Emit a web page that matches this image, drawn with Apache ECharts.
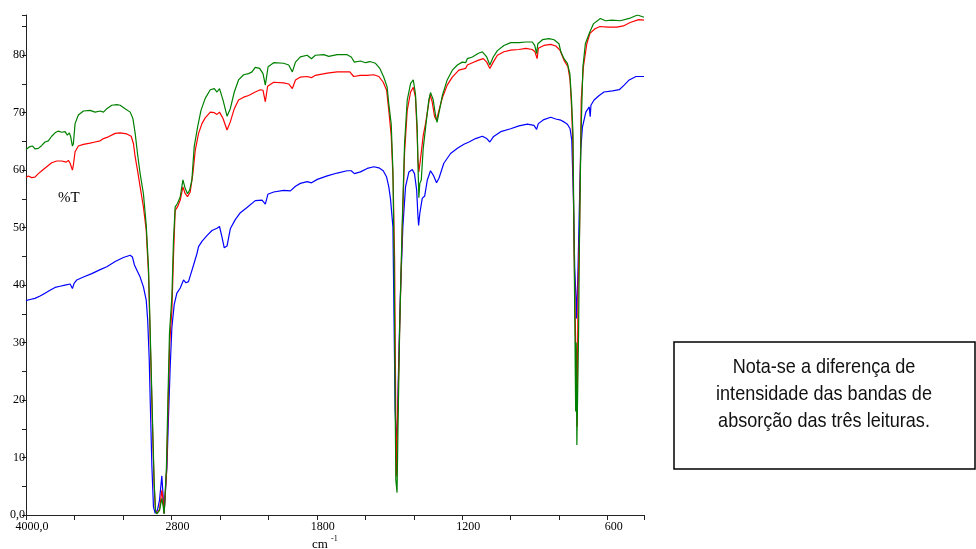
<!DOCTYPE html>
<html>
<head>
<meta charset="utf-8">
<script src="https://cdn.jsdelivr.net/npm/echarts@6/dist/echarts.min.js"></script>
<style>
  html, body { margin: 0; padding: 0; background: #fff; }
  #chart { width: 976px; height: 549px; }
</style>
</head>
<body>
<div id="chart"></div>
<script>
// IR spectrum: three readings, wavenumber (cm-1) vs %T
const xTickValues = [4000, 2800, 1800, 1200, 600];
const xTickTexts = ['4000,0', '2800', '1800', '1200', '600'];
const yTickValues = [0, 10, 20, 30, 40, 50, 60, 70, 80];
const yTickTexts = ['0,0', '10', '20', '30', '40', '50', '60', '70', '80'];

const readingGreen = [
  [4000,63.6],[3967,64.1],[3945,64.2],[3926,63.7],[3898,63.8],[3870,64.3],[3843,64.9],[3816,65.1],[3788,65.9],[3760,66.5],
  [3733,66.8],[3705,66.6],[3678,66.7],[3659,66.1],[3642,66.5],[3631,65.8],[3617,64.2],[3609,64.6],[3595,68.1],[3568,69.6],
  [3526,70.3],[3471,70.4],[3430,70.1],[3388,70.3],[3361,70.1],[3333,70.7],[3292,71.3],[3250,71.4],[3223,71.3],[3182,70.7],
  [3140,70.1],[3118,69.0],[3099,66.4],[3080,62.9],[3058,59.4],[3031,55.9],[3008,50.5],[2989,43],[2969,27],[2953,14],
  [2942,5.5],[2931,0.6],[2920,0.2],[2898,0.8],[2879,2.9],[2868,1.5],[2860,0.2],[2841,8.4],[2829,20],[2816,31.6],
  [2796,38],[2783,47.8],[2769,53.6],[2750,54.2],[2727,55.4],[2705,58.3],[2686,56.8],[2667,55.9],[2650,56.5],[2631,58.3],
  [2612,64.1],[2584,67.5],[2556,70.4],[2521,72.5],[2479,74.0],[2446,74.2],[2424,73.6],[2403,74.2],[2374,72.2],[2341,69.4],
  [2314,70.7],[2281,73.6],[2246,75.7],[2204,76.6],[2163,76.8],[2135,77.1],[2108,77.9],[2072,77.7],[2044,76.8],[2025,74.8],
  [2002,78.0],[1978,78.7],[1937,78.6],[1916,78.3],[1901,77.1],[1888,78.8],[1868,79.7],[1840,80.0],[1822,79.4],[1806,80.0],
  [1771,80.1],[1751,79.8],[1716,80.1],[1675,80.1],[1658,79.7],[1645,78.8],[1620,79.0],[1599,78.7],[1581,78.9],[1558,78.6],
  [1540,77.7],[1524,76.2],[1510,74.5],[1503,71.5],[1493,68],[1486,60],[1481,44],[1477,21.2],[1474,6.1],[1469,3.9],
  [1465,15.4],[1458,32.7],[1448,50.1],[1438,64.6],[1427,72.2],[1413,75.1],[1402,75.7],[1393,73.3],[1386,67.5],[1382,60],
  [1379,55.2],[1375,57.7],[1369,58.3],[1361,63.8],[1351,67.5],[1338,72.2],[1331,73.5],[1320,72.3],[1310,69.5],[1304,68.3],
  [1294,70.4],[1282,73.0],[1262,75.7],[1241,77.4],[1220,78.3],[1200,78.8],[1186,78.7],[1179,79.4],[1158,79.7],[1135,80.3],
  [1117,80.6],[1099,79.7],[1086,78.3],[1072,79.7],[1055,80.8],[1028,81.7],[1000,82.2],[966,82.2],[938,82.3],[911,82.3],
  [901,81.7],[893,80.3],[888,82.0],[869,82.7],[842,82.9],[821,82.7],[801,82.0],[793,80.6],[780,79.4],[766,78.6],
  [756,76.8],[749,72.2],[743,66.4],[739,49],[735,31.6],[732,18.0],[730,30],[727,12.2],[720,31.6],[716,49],
  [710,66.4],[702,78.0],[692,82.0],[674,84.0],[658,85.5],[630,86.4],[609,86.0],[582,86.1],[548,86.0],[511,86.4],
  [477,87.0],[456,86.7],[450,86.6]
];

const readingRed = [
  [4000,58.7],[3981,59.0],[3953,58.7],[3926,58.8],[3898,59.4],[3870,59.9],[3829,60.6],[3788,61.3],[3746,61.6],[3705,61.6],
  [3669,61.4],[3650,61.7],[3636,61.2],[3617,60.0],[3609,60.9],[3595,63.2],[3568,64.2],[3526,64.5],[3471,64.7],[3430,64.9],
  [3388,65.1],[3361,65.5],[3320,65.8],[3264,66.4],[3223,66.5],[3168,66.3],[3132,65.9],[3113,64.6],[3099,62.3],[3080,60.0],
  [3058,57.1],[3031,53.6],[3008,49.6],[2989,42],[2969,26],[2953,13],[2942,5],[2931,0.8],[2920,0.3],[2898,1.0],
  [2879,4.3],[2868,2.5],[2860,0.3],[2839,8],[2827,19],[2814,30],[2796,35.7],[2783,44.9],[2769,53.0],[2750,53.6],
  [2727,54.8],[2705,57.1],[2686,55.9],[2667,55.4],[2645,56.2],[2623,59.4],[2603,63.5],[2576,66.4],[2548,68.1],[2521,69.1],
  [2479,70.1],[2446,70.0],[2424,69.7],[2403,70.1],[2374,69.0],[2341,67.0],[2314,68.4],[2281,70.7],[2246,72.2],[2204,72.7],
  [2163,73.0],[2108,73.6],[2066,74.0],[2044,73.9],[2025,71.9],[2006,74.6],[1978,75.3],[1937,75.2],[1916,75.0],[1901,74.2],
  [1888,75.7],[1868,76.2],[1840,76.3],[1822,76.1],[1806,76.5],[1757,76.9],[1716,77.1],[1664,77.1],[1648,76.3],[1620,76.5],
  [1592,76.5],[1565,76.6],[1544,76.3],[1526,75.3],[1512,73.9],[1503,70.4],[1493,66],[1485,58],[1479,44.3],[1475,21.2],
  [1472,6.7],[1466,18.3],[1458,32.7],[1448,49],[1438,63],[1427,70.4],[1413,73.6],[1402,74.4],[1393,72.7],[1386,66.4],
  [1383,62],[1379,59.7],[1372,62],[1361,66],[1351,68.2],[1333,73.1],[1324,71.9],[1314,69.3],[1306,68.7],[1296,70.4],
  [1282,72.6],[1262,74.8],[1241,76.2],[1214,77.4],[1186,77.7],[1179,78.3],[1158,78.7],[1135,79.1],[1113,79.4],[1099,78.8],
  [1086,77.7],[1072,78.8],[1055,80.0],[1028,80.6],[1000,80.9],[966,81.0],[938,81.2],[911,81.0],[900,80.6],[891,79.4],
  [886,81.2],[863,81.7],[835,81.9],[814,81.6],[797,80.9],[780,79.1],[764,78.0],[755,75.7],[749,71.0],[744,65.2],
  [738,45],[732,30],[729,28.5],[726,15.4],[722,40],[716,49],[709,72.2],[700,78.0],[686,82.0],[673,83.8],
  [652,84.6],[632,85.0],[598,84.9],[562,84.9],[535,85.1],[507,85.7],[472,86.2],[450,86.1]
];

const readingBlue = [
  [4000,37.3],[3967,37.5],[3926,37.7],[3884,38.1],[3843,38.6],[3802,39.1],[3760,39.6],[3719,39.8],[3678,40.0],[3636,40.2],
  [3617,39.4],[3603,40.3],[3581,40.9],[3526,41.4],[3457,42.0],[3388,42.7],[3333,43.2],[3264,44.1],[3196,44.8],[3140,45.2],
  [3122,44.9],[3105,43.5],[3085,42.6],[3058,41.4],[3031,39.7],[3008,37.4],[2996,34],[2983,27],[2975,20],[2961,8.4],
  [2948,1.4],[2934,0.3],[2915,0.9],[2898,2.6],[2879,6.8],[2870,3.8],[2860,0.3],[2837,8.4],[2824,17.1],[2810,25.8],
  [2796,32.7],[2777,36.6],[2755,38.6],[2727,39.5],[2700,40.9],[2680,40.4],[2659,40.6],[2639,42.0],[2617,43.5],[2589,45.5],
  [2576,46.7],[2548,47.6],[2507,48.6],[2465,49.5],[2424,49.9],[2403,50.2],[2383,48.4],[2364,46.5],[2341,46.8],[2314,49.8],
  [2273,51.4],[2231,52.6],[2176,53.5],[2108,54.7],[2052,54.8],[2025,54.1],[2004,55.8],[1978,56.2],[1937,56.5],[1909,56.4],
  [1901,56.1],[1888,57.2],[1868,57.7],[1840,58.0],[1822,57.8],[1798,58.4],[1757,59.0],[1716,59.5],[1675,59.9],[1658,59.9],
  [1645,59.4],[1620,59.7],[1592,60.3],[1565,60.6],[1544,60.4],[1526,59.9],[1512,58.8],[1503,57.1],[1496,55],[1486,50.1],
  [1481,32.7],[1477,18.3],[1472,13],[1468,15.4],[1462,27],[1455,38.6],[1445,50.1],[1434,57.1],[1420,59.7],[1406,60.1],
  [1397,59.4],[1388,56.5],[1383,52.2],[1380,50.4],[1375,52.5],[1365,55.1],[1355,55.5],[1344,58.3],[1331,59.9],[1319,59.1],
  [1306,57.8],[1296,58.6],[1276,61.2],[1248,62.9],[1220,63.8],[1193,64.5],[1172,64.9],[1145,65.5],[1117,65.9],[1099,65.5],
  [1086,64.9],[1072,65.8],[1041,66.7],[1000,67.2],[966,67.7],[931,68.0],[904,67.8],[893,67.1],[886,68.1],[863,68.8],
  [835,69.2],[814,68.9],[793,68.7],[780,68.4],[766,68.0],[755,67.2],[748,65.2],[741,54.8],[736,43.2],[730,37.1],
  [728,34.2],[722,43.2],[716,54.8],[711,63.5],[704,67.5],[690,70.1],[676,71.0],[672,69.3],[669,71.3],[656,72.2],
  [635,73.0],[615,73.6],[580,73.8],[552,74.0],[532,74.8],[511,75.7],[483,76.3],[450,76.3]
];

// The wavenumber axis is compressed above 2000 cm-1 (400 per division)
// and expanded below it (200 per division).
function toAxis(wn) {
  return wn >= 2000 ? (4000 - wn) / 400 : 5 + (2000 - wn) / 200;
}
function fromAxis(u) {
  return u <= 5 ? 4000 - u * 400 : 2000 - (u - 5) * 200;
}
const mapped = arr => arr.map(p => [toAxis(p[0]), p[1]]);

const serifFont = '"Liberation Serif", "DejaVu Serif", serif';

const chart = echarts.init(document.getElementById('chart'), null, { renderer: 'canvas' });

chart.setOption({
  animation: false,
  backgroundColor: '#fff',
  grid: { left: 26, right: 332, top: 15, bottom: 34, containLabel: false },
  xAxis: {
    type: 'value',
    min: toAxis(4000),
    max: toAxis(450),
    interval: 1,
    axisLine: { onZero: false, lineStyle: { color: '#222', width: 1 } },
    axisTick: { show: true, length: 5, lineStyle: { color: '#222' } },
    splitLine: { show: false },
    axisLabel: {
      showMinLabel: true,
      showMaxLabel: true,
      margin: 6,
      padding: [0, 0, 0, 12],
      color: '#000',
      fontFamily: serifFont,
      fontSize: 12,
      formatter: function (u) {
        const wn = Math.round(fromAxis(u));
        const i = xTickValues.indexOf(wn);
        return i >= 0 ? xTickTexts[i] : '';
      }
    }
  },
  yAxis: {
    type: 'value',
    min: 0,
    max: 87,
    interval: 5,
    axisLine: { show: true, lineStyle: { color: '#222', width: 1 } },
    axisTick: { show: true, length: 4, lineStyle: { color: '#222' } },
    splitLine: { show: false },
    axisLabel: {
      margin: 1,
      color: '#000',
      fontFamily: serifFont,
      fontSize: 12,
      formatter: function (v) {
        const i = yTickValues.indexOf(Math.round(v * 100) / 100);
        return i >= 0 ? yTickTexts[i] : '';
      }
    }
  },
  series: [
    { name: 'Leitura 3', type: 'line', data: mapped(readingBlue), showSymbol: false,
      lineStyle: { color: '#0000ff', width: 1.2 }, itemStyle: { color: '#0000ff' }, z: 2 },
    { name: 'Leitura 2', type: 'line', data: mapped(readingRed), showSymbol: false,
      lineStyle: { color: '#ff0000', width: 1.2 }, itemStyle: { color: '#ff0000' }, z: 3 },
    { name: 'Leitura 1', type: 'line', data: mapped(readingGreen), showSymbol: false,
      lineStyle: { color: '#008000', width: 1.2 }, itemStyle: { color: '#008000' }, z: 4 }
  ],
  graphic: [
    { type: 'text', left: 58, top: 191,
      style: { text: '%T', font: '15px ' + serifFont, fill: '#000' } },
    { type: 'text', left: 312, top: 538,
      style: { text: 'cm', font: '13px ' + serifFont, fill: '#000' } },
    { type: 'text', left: 331, top: 535,
      style: { text: '-1', font: '8px ' + serifFont, fill: '#000' } },
    { type: 'rect', shape: { x: 674, y: 342, width: 301, height: 127 },
      style: { fill: '#fff', stroke: '#000', lineWidth: 1.5 } },
    { type: 'text', x: 824, y: 354, scaleX: 0.86,
      style: {
        text: 'Nota-se a diferença de\nintensidade das bandas de\nabsorção das três leituras.',
        font: '21px "Liberation Sans", Arial, sans-serif',
        fill: '#111',
        align: 'center',
        verticalAlign: 'top',
        lineHeight: 27
      } }
  ]
});
</script>
</body>
</html>
